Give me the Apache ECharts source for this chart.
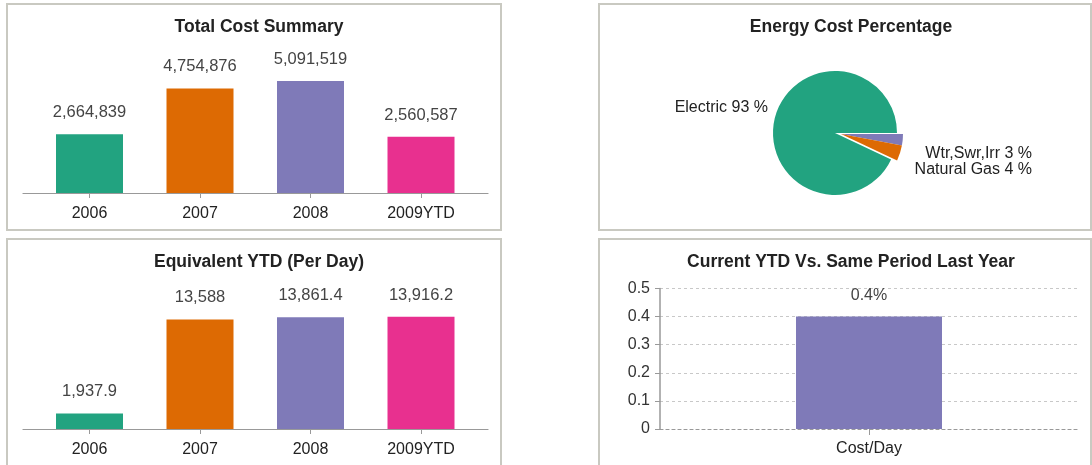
<!DOCTYPE html>
<html>
<head>
<meta charset="utf-8">
<script src="https://cdn.jsdelivr.net/npm/echarts@6/dist/echarts.min.js"></script>
<style>
  html, body { margin: 0; padding: 0; background: #fff; }
  #chart { width: 1092px; height: 465px; }
</style>
</head>
<body>
<div id="chart"></div>
<script>
// ---- data ----
const years = ['2006', '2007', '2008', '2009YTD'];
const totalCost = [2664839, 4754876, 5091519, 2560587];
const perDay = [1937.9, 13588, 13861.4, 13916.2];
const energyNames = ['Wtr,Swr,Irr', 'Natural Gas', 'Electric'];
const energyPct = [3, 4, 93];
const ytdCategories = ['Cost/Day'];
const ytdChange = [0.4];
const ytdTicks = [0, 0.1, 0.2, 0.3, 0.4, 0.5];

// ---- styles ----
const barColors = ['#22a380', '#dd6a03', '#7f7ab8', '#e8308f'];
const pieColors = ['#7f7ab8', '#dd6a03', '#22a380'];
const explodedSlices = [true, true, false];   // which slices are pulled out of the pie
const FONT = 'Liberation Sans, Arial, sans-serif';
const addCommas = echarts.format.addCommas;

const chart = echarts.init(document.getElementById('chart'), null, { renderer: 'canvas' });

function titleOf(text, cx, top) {
  return {
    text: text, left: cx, top: top, textAlign: 'center',
    textStyle: { fontFamily: FONT, fontSize: 17.5, fontWeight: 'bold', color: '#222' }
  };
}

function panel(x, y, w, h) {
  return {
    type: 'rect', silent: true, z: -1,
    shape: { x: x, y: y, width: w, height: h },
    style: { fill: '#fff', stroke: '#c9c9c1', lineWidth: 2 }
  };
}

const catAxisLabel = { fontFamily: FONT, fontSize: 16, color: '#222', margin: 13 };

const pieLabelPos = [
  { x: 1032, y: 154 },
  { x: 1032, y: 170 },
  { x: 768, y: 108 }
];

// one pie layer per state (in place / pulled out); both drawn from the same data
function pieLayer(exploded, center) {
  return {
    type: 'pie', center: center, radius: 62, startAngle: 0, clockwise: true,
    avoidLabelOverlap: false, silent: true,
    data: energyNames.map((n, i) => {
      const visible = explodedSlices[i] === exploded;
      return {
        name: n, value: energyPct[i],
        itemStyle: { color: visible ? pieColors[i] : 'rgba(0,0,0,0)' },
        label: { show: visible }
      };
    }),
    label: { show: true, position: 'outside', fontFamily: FONT, fontSize: 16, color: '#222',
      formatter: '{b} {c} %' },
    labelLine: { show: false },
    labelLayout: p => ({ x: pieLabelPos[p.dataIndex].x, y: pieLabelPos[p.dataIndex].y,
      align: 'right', verticalAlign: 'middle' }),
    emphasis: { disabled: true }
  };
}

const option = {
  animation: false,
  textStyle: { fontFamily: FONT },
  graphic: [
    panel(7, 4, 494, 226),
    panel(599, 4, 492, 226),
    panel(7, 239, 494, 240),
    panel(599, 239, 492, 240)
  ],
  title: [
    titleOf('Total Cost Summary', 254, 13),
    titleOf('Energy Cost Percentage', 846, 13),
    titleOf('Equivalent YTD (Per Day)', 254, 248),
    titleOf('Current YTD Vs. Same Period Last Year', 846, 248)
  ],
  grid: [
    { left: 34.25, top: 61, width: 442, height: 132 },   // 0 total cost bars
    { left: 23, top: 61, width: 465, height: 132 },      // 1 total cost axis line
    { left: 34.25, top: 300, width: 442, height: 129 },  // 2 per day bars
    { left: 23, top: 300, width: 465, height: 129 },     // 3 per day axis line
    { left: 660, top: 288.5, width: 418, height: 140.5 } // 4 ytd
  ],
  xAxis: [
    { gridIndex: 0, type: 'category', data: years,
      axisLine: { show: false },
      axisTick: { show: true, alignWithLabel: true, length: 5, lineStyle: { color: '#999' } },
      axisLabel: catAxisLabel },
    { gridIndex: 1, type: 'category', data: [''],
      axisLine: { show: true, lineStyle: { color: '#999', width: 1.2 } },
      axisTick: { show: false }, axisLabel: { show: false } },
    { gridIndex: 2, type: 'category', data: years,
      axisLine: { show: false },
      axisTick: { show: true, alignWithLabel: true, length: 5, lineStyle: { color: '#999' } },
      axisLabel: catAxisLabel },
    { gridIndex: 3, type: 'category', data: [''],
      axisLine: { show: true, lineStyle: { color: '#999', width: 1.2 } },
      axisTick: { show: false }, axisLabel: { show: false } },
    { gridIndex: 4, type: 'category', data: ytdCategories,
      axisLine: { show: true, lineStyle: { color: '#999', width: 1.2, type: [3, 3] } },
      axisTick: { show: true, alignWithLabel: true, length: 6, lineStyle: { color: '#999' } },
      axisLabel: { fontFamily: FONT, fontSize: 16, color: '#222', margin: 12 } }
  ],
  yAxis: [
    { gridIndex: 0, type: 'value', min: 0, max: 6000000, show: false },
    { gridIndex: 1, type: 'value', min: 0, max: 1, show: false },
    { gridIndex: 2, type: 'value', min: 0, max: 16000, show: false },
    { gridIndex: 3, type: 'value', min: 0, max: 1, show: false },
    { gridIndex: 4, type: 'value', min: ytdTicks[0], max: ytdTicks[ytdTicks.length - 1], interval: 0.1,
      axisLine: { show: true, lineStyle: { color: '#999', width: 1.5 } },
      axisTick: { show: true, length: 5, lineStyle: { color: '#999' } },
      axisLabel: { fontFamily: FONT, fontSize: 16, color: '#333', margin: 10 },
      splitLine: { show: true, lineStyle: { color: '#c8c8c8', type: [3, 3] } } }
  ],
  series: [
    { type: 'bar', xAxisIndex: 0, yAxisIndex: 0, data: totalCost, barWidth: 67,
      itemStyle: { color: p => barColors[p.dataIndex] },
      label: { show: true, position: 'top', distance: 13, fontFamily: FONT, fontSize: 16.5, color: '#444',
        formatter: p => addCommas(p.value) },
      emphasis: { disabled: true } },
    { type: 'bar', xAxisIndex: 2, yAxisIndex: 2, data: perDay, barWidth: 67,
      itemStyle: { color: p => barColors[p.dataIndex] },
      label: { show: true, position: 'top', distance: 13, fontFamily: FONT, fontSize: 16.5, color: '#444',
        formatter: p => addCommas(p.value) },
      emphasis: { disabled: true } },
    { type: 'bar', xAxisIndex: 4, yAxisIndex: 4, data: ytdChange, barWidth: 146,
      itemStyle: { color: '#7f7ab8' },
      label: { show: true, position: 'top', distance: 13, fontFamily: FONT, fontSize: 16, color: '#444',
        formatter: p => p.value + '%' },
      emphasis: { disabled: true } },
    pieLayer(false, [835, 133]),
    pieLayer(true, [841, 134])
  ]
};
chart.setOption(option);
</script>
</body>
</html>
